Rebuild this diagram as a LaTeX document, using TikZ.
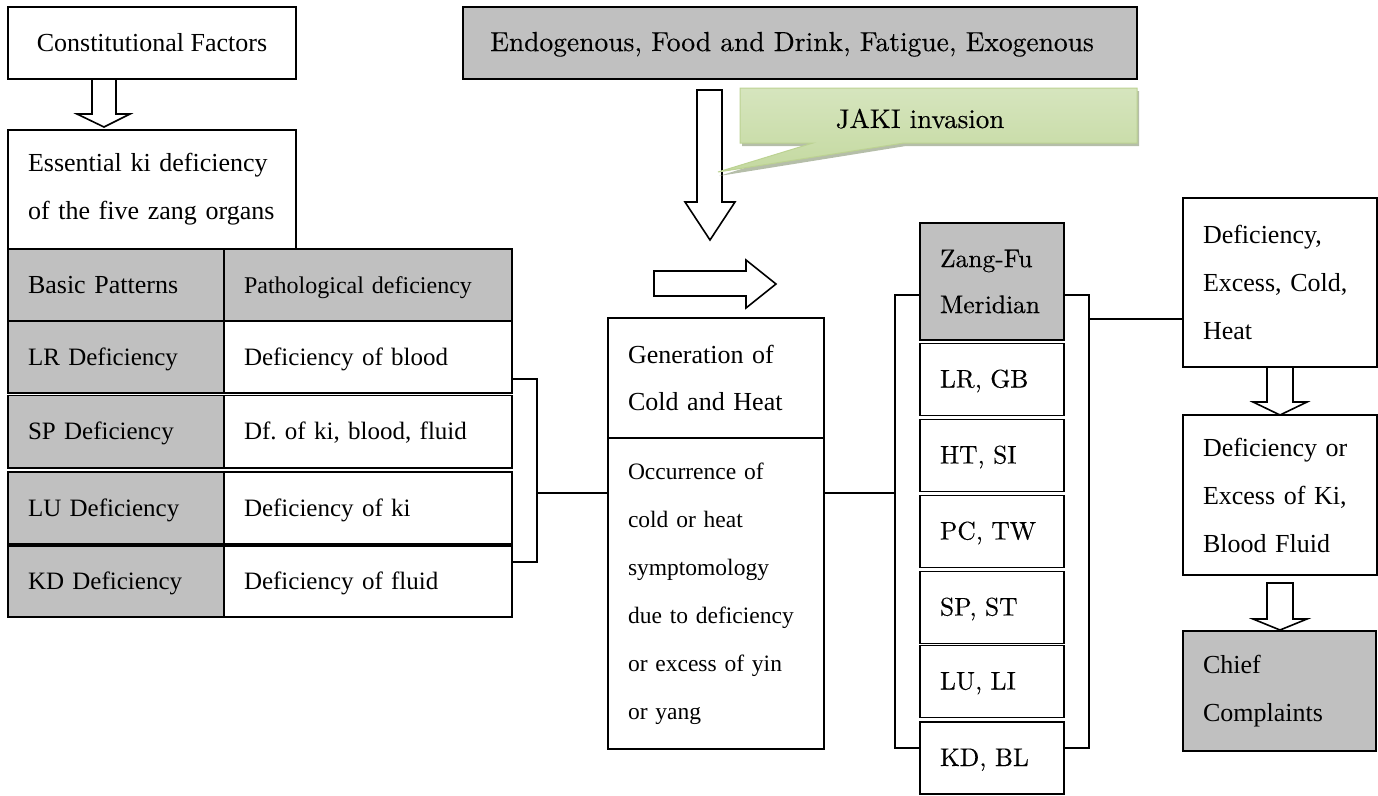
\documentclass[tikz,border=0pt]{standalone}
\usepackage{fontspec}
\newfontfamily\tnr{Liberation Serif}
\newfontfamily\cent[FakeBold=0.3]{lmroman10-regular.otf}
\usetikzlibrary{calc}
\definecolor{gfill}{RGB}{192,192,192}
\definecolor{calA}{RGB}{240,245,232}
\definecolor{calT}{RGB}{214,229,190}
\definecolor{calB}{RGB}{196,217,160}
\definecolor{calEdge}{RGB}{188,210,146}
\definecolor{calShadow}{RGB}{150,162,132}
\frenchspacing
\begin{document}
\begin{tikzpicture}[x=1pt,y=-1pt,
  box/.style={draw, line width=1.8pt, inner xsep=20pt, inner ysep=0pt, anchor=center},
  gbox/.style={box, fill=gfill},
  one/.style={text height=20pt, text depth=4pt},
  tms/.style={font=\tnr\fontsize{26}{48}\selectfont},
  tmsS/.style={font=\tnr\fontsize{25}{30}\selectfont},
  lmf/.style={font=\cent\fontsize{25.5}{46}\selectfont},
  conn/.style={line width=1.3pt},
  barrow/.style={draw, line width=1.6pt, fill=white, line join=miter}]
\useasboundingbox (0,0) rectangle (1378,795);

% left column
\node[box, tms, one, minimum width=288pt, minimum height=72pt, inner xsep=0pt] (const) at (152,43) {Constitutional Factors};
\node[box, tms, minimum width=288pt, minimum height=119pt, text width=248pt, align=left] (ess) at (152,189.5) {Essential ki deficiency\\of the five zang organs};

% table
\node[gbox, tms, one, minimum width=216pt, minimum height=72pt, text width=176pt, align=left] (hbp) at (116,285) {Basic Patterns};
\node[gbox, one, font=\tnr\fontsize{24}{28}\selectfont, minimum width=288pt, minimum height=72pt, text width=248pt, align=left] (hpd) at (368,285) {Pathological deficiency};

\node[gbox, tmsS, one, minimum width=216pt, minimum height=72pt, text width=176pt, align=left] (lra) at (116,357) {LR Deficiency};
\node[box, tmsS, one, minimum width=288pt, minimum height=72pt, text width=248pt, align=left] (lrb) at (368,357) {Deficiency of blood};
\node[gbox, tmsS, one, minimum width=216pt, minimum height=72.5pt, text width=176pt, align=left] (spa) at (116,431.75) {SP Deficiency};
\node[box, tmsS, one, minimum width=288pt, minimum height=72.5pt, text width=248pt, align=left] (spb) at (368,431.75) {Df. of ki, blood, fluid};
\node[gbox, tmsS, one, minimum width=216pt, minimum height=72pt, text width=176pt, align=left] (lua) at (116,508) {LU Deficiency};
\node[box, tmsS, one, minimum width=288pt, minimum height=72pt, text width=248pt, align=left] (lub) at (368,508) {Deficiency of ki};
\node[gbox, tmsS, one, minimum width=216pt, minimum height=71pt, text width=176pt, align=left] (kda) at (116,581.5) {KD Deficiency};
\node[box, tmsS, one, minimum width=288pt, minimum height=71pt, text width=248pt, align=left] (kdb) at (368,581.5) {Deficiency of fluid};

% top
\node[gbox, one, font=\cent\fontsize{27.5}{30}\selectfont, minimum width=674pt, minimum height=72pt] (endo) at (800,43) {\kern-16pt Endogenous, Food and Drink, Fatigue, Exogenous};

% generation
\node[box, font=\tnr\fontsize{26}{47}\selectfont, minimum width=216pt, minimum height=120pt, text width=176pt, align=left] (gen) at (716,378) {Generation of\\Cold and Heat};
\node[box, font=\tnr\fontsize{23.5}{48}\selectfont, minimum width=216pt, minimum height=311pt, text width=176pt, align=left] (occ) at (716,593.5) {Occurrence of\\cold or heat\\symptomology\\due to deficiency\\or excess of yin\\or yang};

% zang-fu column
\node[gbox, lmf, minimum width=144pt, minimum height=117pt, text width=104pt, align=left] (zf) at (992,281.5) {Zang-Fu\\Meridian};
\node[box, lmf, one, minimum width=144pt, minimum height=72pt, text width=104pt, align=left] (z1) at (992,379.5) {LR, GB};
\node[box, lmf, one, minimum width=144pt, minimum height=72pt, text width=104pt, align=left] (z2) at (992,455.5) {HT, SI};
\node[box, lmf, one, minimum width=144pt, minimum height=72pt, text width=104pt, align=left] (z3) at (992,531.5) {PC, TW};
\node[box, lmf, one, minimum width=144pt, minimum height=72pt, text width=104pt, align=left] (z4) at (992,607.5) {SP, ST};
\node[box, lmf, one, minimum width=144pt, minimum height=72pt, text width=104pt, align=left] (z5) at (992,681.5) {LU, LI};
\node[box, lmf, one, minimum width=144pt, minimum height=72pt, text width=104pt, align=left] (z6) at (992,758) {KD, BL};

% right column
\node[box, tms, minimum width=194pt, minimum height=169pt, text width=154pt, align=left] (dA) at (1280,282.5) {Deficiency,\\Excess, Cold,\\Heat};
\node[box, tms, minimum width=194pt, minimum height=160pt, text width=154pt, align=left] (dB) at (1280,495) {\makebox[151pt][s]{Deficiency or}\\\makebox[151pt][s]{Excess of Ki,}\\Blood Fluid};
\node[gbox, tms, minimum width=193pt, minimum height=120pt, text width=153pt, align=left] (chief) at (1279.5,691) {Chief\\Complaints};

% connectors
\draw[conn] ($(lrb.east)+(0,22)$) -| ($(kdb.east)+(24,-19.5)$) -- ($(kdb.east)+(0,-19.5)$);
\coordinate (tjoin) at (536,493);
\draw[conn] (tjoin) -- (tjoin -| occ.west);
\coordinate (zjoin) at (896,493);
\draw[conn] (zjoin -| occ.east) -- (zjoin);
\draw[conn] ($(zf.west)+(0,13.5)$) -| ($(z6.west)+(-24,-10)$) -- ($(z6.west)+(0,-10)$);
\draw[conn] ($(zf.east)+(0,13.5)$) -| ($(z6.east)+(24,-10)$) -- ($(z6.east)+(0,-10)$);
\coordinate (rj) at (1088,319);
\draw[conn] (rj) -- (rj -| dA.west);

% block arrows
\path[barrow] (92,79) -- (92,114) -- (77,114) -- (104,127) -- (130,114) -- (116,114) -- (116,79) -- cycle;
\path[barrow] (697,90) -- (722,90) -- (722,202) -- (735,202) -- (710,240) -- (685,202) -- (697,202) -- cycle;
\path[barrow] (654,271) -- (746,271) -- (746,260) -- (776,284) -- (746,308) -- (746,296) -- (654,296) -- cycle;
\path[barrow] (1267,367) -- (1267,402) -- (1253,402) -- (1280,415) -- (1307,402) -- (1293,402) -- (1293,367) -- cycle;
\path[barrow] (1267,583) -- (1293,583) -- (1293,619) -- (1307,619) -- (1280,630) -- (1253,619) -- (1267,619) -- cycle;

% callout
\fill[calShadow, opacity=0.7] (742,91) -- (1139,91) -- (1139,146) -- (906,146) -- (719,176) -- (815,146) -- (742,146) -- cycle;
\path[draw=calEdge, line width=1pt, top color=calT, middle color=calA, bottom color=calB] (740,88) -- (1137,88) -- (1137,143) -- (904,143) -- (718,172) -- (813,143) -- (740,143) -- cycle;
\node[font=\cent\fontsize{27}{30}\selectfont, anchor=base] (jaki) at (920,128) {JAKI invasion};
\end{tikzpicture}
\end{document}
